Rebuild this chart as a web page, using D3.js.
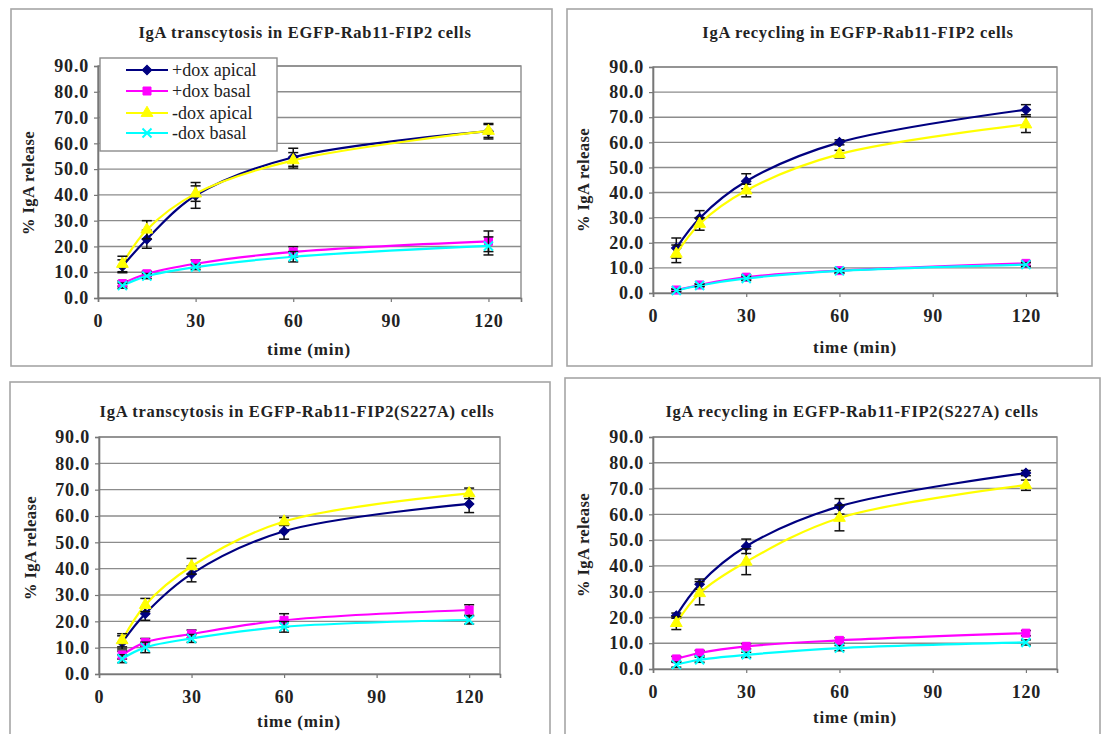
<!DOCTYPE html>
<html>
<head>
<meta charset="utf-8">
<script src="https://cdn.jsdelivr.net/npm/d3@7"></script>
<style>
  body { margin: 0; background: #fff; }
  svg text { font-family: "Liberation Serif", "Times New Roman", serif; fill: #222; }
</style>
</head>
<body>
<svg id="chart" width="1102" height="734"></svg>
<script>
// time points (min) and series
const times = [7.5, 15, 30, 60, 120];
const seriesNames = ["+dox apical", "+dox basal", "-dox apical", "-dox basal"];
const seriesColors = ["#000080", "#ff00ff", "#ffff00", "#00ffff"];
const xTicks = [0, 30, 60, 90, 120];
const yTicks = [0, 10, 20, 30, 40, 50, 60, 70, 80, 90];

// IgA transcytosis in EGFP-Rab11-FIP2 cells
const transFip2 = [
  [12.3, 22.8, 39.8, 54.6, 64.7],
  [5.6, 9.4, 13.3, 17.9, 22.0],
  [13.2, 26.5, 40.5, 53.4, 64.8],
  [4.8, 8.5, 12.0, 16.0, 20.2]
];
const transFip2Err = [
  [2.5, 3.5, 5.0, 3.5, 3.0],
  [1.0, 1.0, 1.5, 2.0, 4.0],
  [3.0, 3.5, 3.0, 3.0, 2.5],
  [1.0, 1.0, 1.0, 2.0, 3.5]
];

// IgA recycling in EGFP-Rab11-FIP2 cells
const recyFip2 = [
  [17.9, 29.8, 44.5, 60.0, 73.0],
  [1.2, 3.2, 6.3, 8.9, 11.8],
  [15.6, 27.5, 40.8, 55.3, 67.1],
  [1.0, 3.0, 5.8, 8.8, 11.3]
];
const recyFip2Err = [
  [4.0, 3.0, 3.0, 1.0, 2.0],
  [0.5, 0.5, 1.0, 1.0, 1.0],
  [3.5, 2.5, 2.5, 1.5, 3.2],
  [0.5, 0.5, 0.8, 0.8, 0.8]
];

// IgA transcytosis in EGFP-Rab11-FIP2(S227A) cells
const transS227A = [
  [12.0, 22.9, 38.0, 54.2, 64.6],
  [7.2, 12.0, 15.2, 20.4, 24.3],
  [12.8, 26.2, 40.9, 57.9, 68.6],
  [5.8, 10.1, 13.5, 17.9, 20.5]
];
const transS227AErr = [
  [2.5, 2.5, 3.0, 3.0, 3.3],
  [1.5, 1.5, 1.5, 2.5, 2.0],
  [2.5, 2.5, 3.0, 1.5, 2.0],
  [1.5, 2.0, 1.5, 2.0, 1.5]
];

// IgA recycling in EGFP-Rab11-FIP2(S227A) cells
const recyS227A = [
  [20.7, 32.9, 47.6, 63.1, 76.0],
  [3.9, 6.2, 8.8, 11.1, 13.9],
  [17.8, 29.4, 41.6, 58.6, 71.3],
  [1.7, 3.6, 5.5, 8.1, 10.3]
];
const recyS227AErr = [
  [1.0, 2.0, 2.8, 3.0, 1.0],
  [1.0, 1.0, 1.0, 1.0, 1.0],
  [2.5, 4.5, 5.0, 5.0, 2.0],
  [1.0, 1.0, 1.0, 1.0, 1.0]
];

const panelTitles = [
  "IgA transcytosis in EGFP-Rab11-FIP2 cells",
  "IgA recycling in EGFP-Rab11-FIP2 cells",
  "IgA transcytosis in EGFP-Rab11-FIP2(S227A) cells",
  "IgA recycling in EGFP-Rab11-FIP2(S227A) cells"
];

var svg = d3.select("#chart");

// panel layouts: outer frame, plot box, label anchors
var panels = [
  {box: [11, 9, 552, 366], plot: [98, 66, 521, 298], title: [305, 38], xlab: [309, 355], ylab: [28, 183],
   values: transFip2, errs: transFip2Err, name: panelTitles[0], legend: true},
  {box: [567, 9, 1092, 366], plot: [653, 67, 1057, 293], title: [858, 38], xlab: [855, 353], ylab: [583, 180],
   values: recyFip2, errs: recyFip2Err, name: panelTitles[1]},
  {box: [10, 382, 550, 740], plot: [99, 437, 500, 674], title: [297, 417], xlab: [299, 727], ylab: [30, 548],
   values: transS227A, errs: transS227AErr, name: panelTitles[2]},
  {box: [565, 378, 1100, 740], plot: [653, 437, 1057, 669], title: [852, 417], xlab: [855, 723], ylab: [583, 545],
   values: recyS227A, errs: recyS227AErr, name: panelTitles[3]}
];

function markerPath(i) {
    if (i == 0) return d3.symbol().type(d3.symbolSquare).size(46)();
    if (i == 1) return d3.symbol().type(d3.symbolSquare).size(64)();
    if (i == 2) return d3.symbol().type(d3.symbolTriangle).size(60)();
    return "M-4.5,-4.5L4.5,4.5M-4.5,4.5L4.5,-4.5";
}
function markerRotate(i) { return i == 0 ? " rotate(45)" : ""; }

function drawPanel(p) {
    var g = svg.append("g");
    var b = p.box, pl = p.plot;

    g.append("rect")
        .attr("x", b[0]).attr("y", b[1])
        .attr("width", b[2] - b[0]).attr("height", b[3] - b[1])
        .attr("fill", "#fff").attr("stroke", "#a6a6a6").attr("stroke-width", 1.6);

    var x = d3.scaleLinear().domain([0, 130]).range([pl[0], pl[2]]);
    var y = d3.scaleLinear().domain([0, 90]).range([pl[3], pl[1]]);

    // gridlines
    g.append("g").selectAll("line")
        .data(yTicks.slice(1))
        .enter().append("line")
        .attr("x1", pl[0]).attr("x2", pl[2])
        .attr("y1", d => y(d)).attr("y2", d => y(d))
        .attr("stroke", "#8c8c8c").attr("stroke-width", 1.4);

    g.append("rect")
        .attr("x", pl[0]).attr("y", pl[1])
        .attr("width", pl[2] - pl[0]).attr("height", pl[3] - pl[1])
        .attr("fill", "none").attr("stroke", "#8c8c8c").attr("stroke-width", 1.4);

    // axes
    var yAxis = g.append("g").attr("transform", "translate(" + pl[0] + ",0)")
        .call(d3.axisLeft(y).tickValues(yTicks).tickFormat(d3.format(".1f")).tickSize(4).tickPadding(5));
    var xAxis = g.append("g").attr("transform", "translate(0," + pl[3] + ")")
        .call(d3.axisBottom(x).tickValues(xTicks).tickSize(4).tickPadding(12));
    [yAxis, xAxis].forEach(function(a) {
        a.select(".domain").attr("stroke", "#777").attr("stroke-width", 1.6);
        a.selectAll(".tick line").attr("stroke", "#777").attr("stroke-width", 1.2);
        a.selectAll("text").attr("font-size", 18).attr("font-weight", "bold")
            .attr("letter-spacing", 0.8)
            .attr("font-family", "Liberation Serif, serif").attr("fill", "#333");
    });

    var line = d3.line()
        .x((d, i) => x(times[i]))
        .y(d => y(d))
        .curve(d3.curveCatmullRom.alpha(0.5));

    p.values.forEach(function(vals, s) {
        var sg = g.append("g");
        sg.append("path")
            .datum(vals)
            .attr("d", line)
            .attr("fill", "none")
            .attr("stroke", seriesColors[s])
            .attr("stroke-width", 2.2);

        var eb = sg.selectAll(".eb").data(vals).enter().append("g");
        eb.append("line")
            .attr("x1", (d, i) => x(times[i])).attr("x2", (d, i) => x(times[i]))
            .attr("y1", (d, i) => y(d - p.errs[s][i])).attr("y2", (d, i) => y(d + p.errs[s][i]));
        eb.append("line")
            .attr("x1", (d, i) => x(times[i]) - 5).attr("x2", (d, i) => x(times[i]) + 5)
            .attr("y1", (d, i) => y(d + p.errs[s][i])).attr("y2", (d, i) => y(d + p.errs[s][i]));
        eb.append("line")
            .attr("x1", (d, i) => x(times[i]) - 5).attr("x2", (d, i) => x(times[i]) + 5)
            .attr("y1", (d, i) => y(d - p.errs[s][i])).attr("y2", (d, i) => y(d - p.errs[s][i]));
        eb.selectAll("line").attr("stroke", "#111").attr("stroke-width", 1.5);

        sg.selectAll(".mk").data(vals).enter().append("path")
            .attr("transform", (d, i) => "translate(" + x(times[i]) + "," + y(d) + ")" + markerRotate(s))
            .attr("d", markerPath(s))
            .attr("fill", s == 3 ? "none" : seriesColors[s])
            .attr("stroke", seriesColors[s])
            .attr("stroke-width", s == 3 ? 2 : 1);
    });

    // texts
    g.append("text")
        .attr("x", p.title[0]).attr("y", p.title[1])
        .attr("text-anchor", "middle")
        .attr("font-size", 16.5).attr("font-weight", "bold")
        .attr("letter-spacing", 0.7)
        .text(p.name);
    g.append("text")
        .attr("x", p.xlab[0]).attr("y", p.xlab[1])
        .attr("text-anchor", "middle")
        .attr("font-size", 17).attr("font-weight", "bold")
        .attr("letter-spacing", 0.8)
        .text("time (min)");
    g.append("text")
        .attr("transform", "translate(" + p.ylab[0] + "," + p.ylab[1] + ") rotate(-90)")
        .attr("text-anchor", "middle").attr("dy", "0.35em")
        .attr("font-size", 16.5).attr("font-weight", "bold")
        .attr("letter-spacing", 0.4)
        .text("% IgA release");

    if (p.legend) {
        var lg = g.append("g").attr("transform", "translate(100,58)");
        lg.append("rect").attr("width", 177).attr("height", 93)
            .attr("fill", "#fff").attr("stroke", "#8c8c8c").attr("stroke-width", 1.4);
        var item = lg.selectAll(".item").data(seriesNames).enter().append("g")
            .attr("transform", (d, i) => "translate(0," + [12, 33, 55, 75][i] + ")");
        item.append("line").attr("x1", 26).attr("x2", 68)
            .attr("stroke", (d, i) => seriesColors[i]).attr("stroke-width", 2.2);
        item.append("path")
            .attr("transform", (d, i) => "translate(47,0)" + markerRotate(i))
            .attr("d", (d, i) => markerPath(i))
            .attr("fill", (d, i) => i == 3 ? "none" : seriesColors[i])
            .attr("stroke", (d, i) => seriesColors[i])
            .attr("stroke-width", (d, i) => i == 3 ? 2 : 1);
        item.append("text").attr("x", 72).attr("dy", "0.35em")
            .attr("font-size", 18)
            .text(d => d);
    }
}

panels.forEach(drawPanel);
</script>
</body>
</html>
